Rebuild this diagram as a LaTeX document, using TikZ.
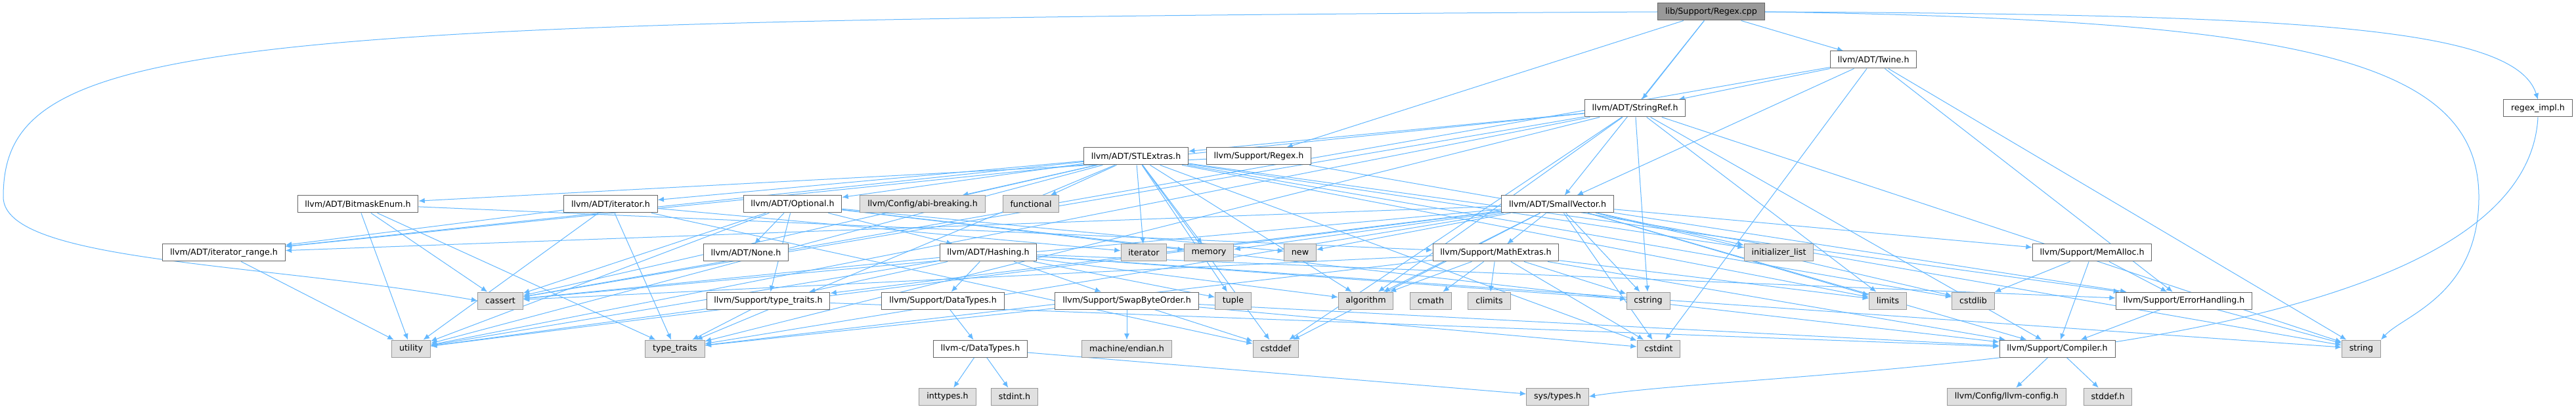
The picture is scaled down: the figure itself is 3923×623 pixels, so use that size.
\documentclass[tikz,border=0pt]{standalone}
\usepackage{fontspec}
\setmainfont{DejaVu Sans}
\usetikzlibrary{arrows.meta,backgrounds}

\definecolor{edgeblue}{HTML}{63B8FF}

\begin{document}
\begin{tikzpicture}[
  x=0.75pt,y=-0.75pt,
  font=\fontsize{9.5}{11}\selectfont,
  hdr/.style={draw=black!60,fill=white,line width=0.75pt,minimum height=19.5pt,inner xsep=8.5pt,inner ysep=0pt},
  sys/.style={hdr,draw=black!40,fill=black!12},
  root/.style={hdr,fill=black!40},
  arr/.style={-{Latex[length=7pt,width=6pt]},color=edgeblue,line width=0.75pt}
]
\useasboundingbox (0,0) rectangle (3923,623);

% top rows
\node[root] (cpp) at (2606,18) {lib/Support/Regex.cpp};
\node[hdr] (twine) at (2853,91) {llvm/ADT/Twine.h};
\node[hdr] (sref) at (2490,165) {llvm/ADT/StringRef.h};
\node[hdr] (rximpl) at (3865,165) {regex\_impl.h};
\node[hdr] (rxh) at (1917,238) {llvm/Support/Regex.h};
\node[hdr] (stlx) at (1730,238) {llvm/ADT/STLExtras.h};

% row 4
\node[hdr] (bme) at (545,311) {llvm/ADT/BitmaskEnum.h};
\node[hdr] (iterh) at (930,311) {llvm/ADT/iterator.h};
\node[hdr] (opt) at (1207,311) {llvm/ADT/Optional.h};
\node[sys] (abi) at (1405,311) {llvm/Config/abi-breaking.h};
\node[sys] (func) at (1570,311) {functional};
\node[hdr] (svec) at (2372,311) {llvm/ADT/SmallVector.h};

% row 5
\node[hdr] (itrange) at (341,385) {llvm/ADT/iterator\_range.h};
\node[hdr] (none) at (1136,385) {llvm/ADT/None.h};
\node[hdr] (hash) at (1505,385) {llvm/ADT/Hashing.h};
\node[sys] (iter) at (1742,385) {iterator};
\node[sys] (memory) at (1841,385) {memory};
\node[sys] (new) at (1980,385) {new};
\node[hdr] (mathx) at (2278,385) {llvm/Support/MathExtras.h};
\node[sys] (initl) at (2709,385) {initializer\_list};
\node[hdr] (memalloc) at (3186,385) {llvm/Support/MemAlloc.h};

% row 6
\node[sys] (cassert) at (762,458) {cassert};
\node[hdr] (ttraits) at (1170,458) {llvm/Support/type\_traits.h};
\node[hdr] (dtypes) at (1436,458) {llvm/Support/DataTypes.h};
\node[hdr] (swap) at (1716,458) {llvm/Support/SwapByteOrder.h};
\node[sys] (tuple) at (1878,458) {tuple};
\node[sys] (algo) at (2080,458) {algorithm};
\node[sys] (cmath) at (2179,458) {cmath};
\node[sys] (climits) at (2268,458) {climits};
\node[sys] (cstring) at (2510,458) {cstring};
\node[sys] (limits) at (2875,458) {limits};
\node[sys] (cstdlib) at (3005,458) {cstdlib};
\node[hdr] (errh) at (3326,458) {llvm/Support/ErrorHandling.h};

% row 7
\node[sys] (utility) at (626,531) {utility};
\node[sys] (stdtt) at (1028,531) {type\_traits};
\node[hdr] (cdtypes) at (1493,531) {llvm-c/DataTypes.h};
\node[sys] (endian) at (1716,531) {machine/endian.h};
\node[sys] (cstddef) at (1943,531) {cstddef};
\node[sys] (cstdint) at (2526,531) {cstdint};
\node[hdr] (compiler) at (3133,531) {llvm/Support/Compiler.h};
\node[sys] (string) at (3596,531) {string};

% bottom row
\node[sys] (inttypes) at (1443,604) {inttypes.h};
\node[sys] (stdint) at (1545,604) {stdint.h};
\node[sys] (systypes) at (2372,604) {sys/types.h};
\node[sys] (llvmcfg) at (3056,604) {llvm/Config/llvm-config.h};
\node[sys] (stddef) at (3210,604) {stddef.h};

\begin{pgfonlayer}{background}
\fill[white] (0,0) rectangle (3923,623);
% includes of Regex.cpp
\path[arr] (cpp) edge (rxh) edge (sref) edge (twine) edge (svec);
\draw[arr] (cpp.west) .. controls (300,30) and (5,60) .. (5,300) .. controls (5,400) and (400,400) .. (cassert.west);
\draw[arr] (cpp.east) .. controls (3500,22) and (3830,40) .. (rximpl.north);
\draw[arr] (cpp.east) .. controls (3500,30) and (3775,90) .. (3775,300) .. controls (3775,450) and (3660,480) .. (string.north east);
\draw[arr] (rximpl.south) .. controls (3845,560) and (2700,560) .. (systypes.east);
% headers
\path[arr] (twine) edge (sref) edge (svec) edge (errh) edge (cassert) edge (cstdint) edge (string);
\path[arr] (sref) edge (stlx) edge (itrange) edge (compiler) edge (algo) edge (cassert) edge (cstddef)
  edge (cstring) edge (limits) edge (string) edge (stdtt) edge (utility);
\path[arr] (rxh) edge (bme) edge (string);
\path[arr] (stlx) edge (opt) edge (iterh) edge (itrange) edge (abi) edge (func) edge (errh) edge (algo)
  edge (cassert) edge (cstddef) edge (cstdint) edge (cstdlib) edge (initl) edge (iter) edge (limits)
  edge (memory) edge (tuple) edge (stdtt) edge (utility);
\path[arr] (svec) edge (itrange) edge (compiler) edge (errh) edge (mathx) edge (memalloc) edge (ttraits)
  edge (algo) edge (cassert) edge (cstddef) edge (cstdint) edge (cstdlib) edge (cstring) edge (initl)
  edge (limits) edge (memory) edge (new) edge (stdtt) edge (utility);
\path[arr] (mathx) edge (compiler) edge (algo) edge (cassert) edge (climits) edge (cmath) edge (cstdint)
  edge (cstring) edge (limits) edge (stdtt);
\path[arr] (memalloc) edge (compiler) edge (errh) edge (cstdlib);
\path[arr] (errh) edge (compiler) edge (string);
\path[arr] (compiler) edge (llvmcfg) edge (stddef);
\path[arr] (ttraits) edge (compiler) edge (stdtt) edge (utility);
\path[arr] (bme) edge (mathx) edge (cassert) edge (stdtt) edge (utility);
\path[arr] (iterh) edge (itrange) edge (cstddef) edge (iter) edge (stdtt) edge (utility);
\path[arr] (itrange) edge (utility);
\path[arr] (opt) edge (hash) edge (none) edge (compiler) edge (ttraits) edge (cassert) edge (memory)
  edge (new) edge (utility);
\path[arr] (hash) edge (dtypes) edge (errh) edge (swap) edge (ttraits) edge (algo) edge (cassert)
  edge (cstring) edge (string) edge (tuple) edge (utility);
\path[arr] (dtypes) edge (cdtypes);
\path[arr] (cdtypes) edge (inttypes) edge (stdint) edge (systypes);
\path[arr] (swap) edge (compiler) edge (cstddef) edge (cstdint) edge (stdtt) edge (endian);
\end{pgfonlayer}
\end{tikzpicture}
\end{document}
